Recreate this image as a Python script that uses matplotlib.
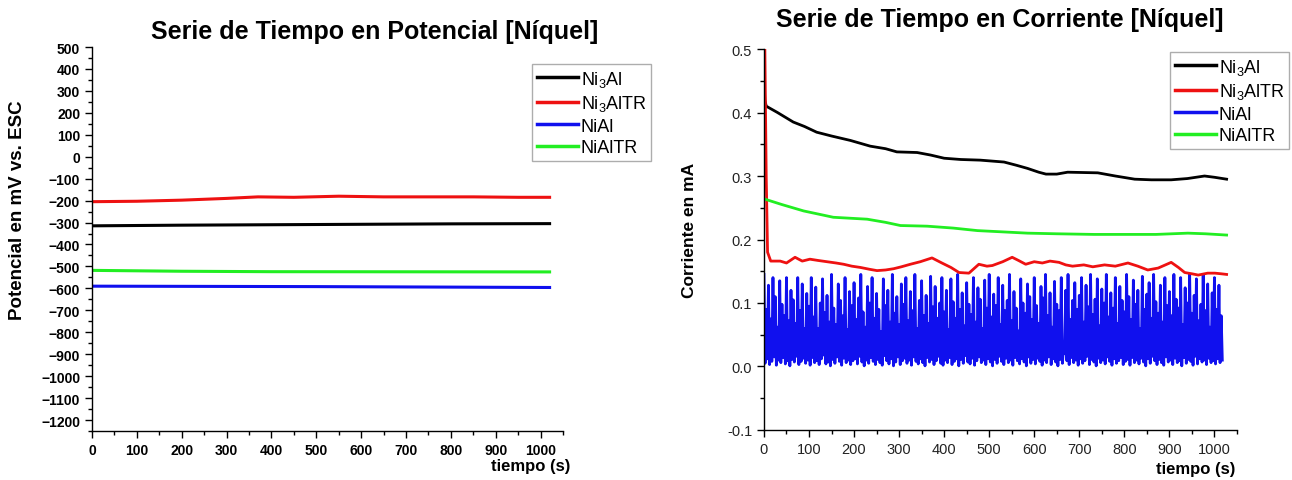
import numpy as np
import matplotlib
matplotlib.use("Agg")
import matplotlib.pyplot as plt
from matplotlib.ticker import MultipleLocator

plt.rcParams['font.family'] = ['Liberation Sans', 'DejaVu Sans']
plt.rcParams['mathtext.fontset'] = 'custom'
plt.rcParams['mathtext.rm'] = 'Liberation Sans'
plt.rcParams['mathtext.default'] = 'regular'

labels = [r'Ni$_3$Al', r'Ni$_3$AlTR', 'NiAl', 'NiAlTR']
colors = ['#000000', '#ee1111', '#1010ee', '#22ee22']

# ---- Potential (left) ----
pot_t_ni3al = [0, 200, 400, 600, 800, 1020]
pot_ni3al = [-315, -312, -310, -308, -306, -305]
pot_t_ni3altr = [0, 100, 200, 300, 370, 450, 550, 650, 750, 850, 950, 1020]
pot_ni3altr = [-205, -203, -198, -190, -183, -185, -180, -183, -183, -183, -185, -185]
pot_t_nial = [0, 500, 1020]
pot_nial = [-590, -592, -596]
pot_t_nialtr = [0, 200, 400, 1020]
pot_nialtr = [-518, -522, -524, -525]

# ---- Current (right) ----
cur_t_ni3al = [0, 2, 5, 30, 65, 90, 117, 150, 192, 236, 270, 295, 340, 370, 400,
               437, 480, 533, 560, 585, 610, 626, 650, 674, 741, 780, 823, 860,
               904, 940, 978, 1000, 1027]
cur_ni3al = [0.45, 0.42, 0.41, 0.40, 0.385, 0.378, 0.369, 0.363, 0.356, 0.347,
             0.343, 0.338, 0.337, 0.333, 0.328, 0.326, 0.325, 0.322, 0.317, 0.312,
             0.306, 0.303, 0.303, 0.306, 0.305, 0.300, 0.295, 0.294, 0.294, 0.296,
             0.300, 0.298, 0.295]
cur_t_ni3altr = [0, 2, 5, 8, 15, 36, 50, 69, 85, 102, 120, 140, 160, 177, 195, 214,
                 235, 251, 270, 288, 305, 325, 347, 373, 395, 415, 433, 455, 477,
                 495, 507, 530, 551, 565, 581, 600, 618, 635, 655, 670, 685, 710,
                 730, 756, 780, 808, 830, 852, 875, 904, 920, 934, 950, 964, 985,
                 1001, 1015, 1027]
cur_ni3altr = [0.5, 0.5, 0.3, 0.18, 0.166, 0.166, 0.163, 0.172, 0.166, 0.169, 0.167,
               0.165, 0.163, 0.161, 0.158, 0.156, 0.153, 0.151, 0.152, 0.154, 0.157,
               0.161, 0.165, 0.171, 0.163, 0.156, 0.148, 0.147, 0.161, 0.158, 0.159,
               0.165, 0.172, 0.167, 0.161, 0.165, 0.163, 0.166, 0.164, 0.160, 0.158,
               0.160, 0.157, 0.160, 0.158, 0.163, 0.158, 0.152, 0.155, 0.164, 0.156,
               0.148, 0.146, 0.144, 0.147, 0.147, 0.146, 0.145]
cur_t_nialtr = [0, 40, 88, 154, 229, 270, 303, 362, 420, 474, 530, 585, 650, 733,
                800, 870, 941, 980, 1027]
cur_nialtr = [0.264, 0.255, 0.245, 0.235, 0.232, 0.227, 0.222, 0.221, 0.218, 0.214,
              0.212, 0.210, 0.209, 0.208, 0.208, 0.208, 0.210, 0.209, 0.207]

# NiAl current: alternating peaks / troughs (in 0.001 mA), sample step 2.5 s
nial_peaks = [
    145, 90, 128, 75, 140, 110, 62, 135, 98, 80, 140, 72, 120, 105, 68, 140, 88, 130, 60, 115,
    95, 140, 78, 125, 60, 100, 138, 85, 112, 70, 145, 92, 66, 130, 104, 80, 140, 58, 118, 96,
    132, 74, 108, 145, 86, 62, 126, 100, 140, 76, 115, 90, 55, 138, 96, 120, 70, 145, 84, 110,
    66, 130, 98, 140, 72, 118, 88, 145, 60, 104, 135, 80, 112, 68, 142, 94, 126, 76, 100, 140,
    86, 120, 58, 138, 102, 76, 145, 90, 116, 64, 132, 98, 82, 140, 70, 124, 106, 60, 136, 92,
    145, 78, 114, 96, 140, 66, 128, 88, 104, 145, 72, 118, 92, 56, 138, 100, 84, 130, 110, 74,
    140, 96, 68, 126, 108, 145, 80, 116, 62, 134, 98, 88, 140, 30, 120, 145, 74, 104, 132, 90,
    112, 140, 70, 128, 94, 145, 82, 106, 138, 64, 122, 100, 145, 78, 116, 92, 140, 68, 126, 104,
    86, 145, 110, 74, 136, 98, 120, 60, 142, 90, 114, 132, 76, 145, 102, 84, 128, 70, 140, 96,
    118, 80, 145, 106, 92, 140, 66, 124, 100, 145, 84, 112, 138, 72, 98, 145, 88, 130, 62, 116,
    140, 90, 128, 80]
nial_troughs = [
    5, 12, 3, 8, 15, 2, 10, 6, 14, 4, 9, 1, 11, 7, 16, 3, 8, 13, 5, 10,
    2, 14, 6, 9, 3, 12, 18, 4, 7, 1, 11, 5, 15, 8, 2, 13, 6, 10, 3, 9,
    12, 4, 16, 7, 1, 10, 5, 14, 8, 3, 11, 6, 2, 17, 9, 4, 12, 1, 7, 15,
    3, 9, 13, 5, 10, 2, 15, 8, 4, 12, 6, 1, 14, 7, 11, 3, 9, 16, 5, 2,
    10, 6, 14, 3, 8, 12, 1, 11, 5, 17, 7, 4, 13, 2, 9, 15, 6, 10, 3, 12,
    7, 1, 11, 5, 16, 8, 3, 13, 6, 10, 2, 14, 9, 4, 12, 7, 1, 15, 5, 11,
    4, 13, 8, 2, 10, 6, 15, 3, 12, 7, 1, 11, 5, 20, 9, 3, 14, 6, 10, 2,
    12, 5, 9, 16, 3, 11, 7, 1, 13, 6, 10, 4, 15, 8, 2, 12, 5, 9, 14, 3,
    8, 11, 2, 14, 6, 10, 4, 13, 7, 1, 12, 5, 16, 9, 3, 11, 6, 2, 15, 7,
    10, 3, 13, 6, 9, 1, 14, 5, 11, 8, 2, 16, 4, 12, 7, 10, 3, 13, 6, 9,
    4, 12, 6, 10]
nial_step = 2.5

nial_vals = np.empty(2 * len(nial_peaks))
nial_vals[0::2] = np.array(nial_peaks) / 1000.0
nial_vals[1::2] = np.array(nial_troughs) / 1000.0
nial_t = np.arange(len(nial_vals)) * nial_step

fig = plt.figure(figsize=(12.92, 4.81), dpi=100)
axL = fig.add_axes([0.0712, 0.1019, 0.3646, 0.7983])
axR = fig.add_axes([0.5913, 0.1040, 0.3661, 0.7920])

lw = 2.2
hl = []
for t, v, c in [(pot_t_ni3al, pot_ni3al, colors[0]), (pot_t_ni3altr, pot_ni3altr, colors[1]),
                (pot_t_nial, pot_nial, colors[2]), (pot_t_nialtr, pot_nialtr, colors[3])]:
    hl.append(axL.plot(t, v, color=c, lw=lw)[0])

hr = []
hr.append(axR.plot(cur_t_ni3al, cur_ni3al, color=colors[0], lw=2.0)[0])
hr.append(axR.plot(cur_t_ni3altr, cur_ni3altr, color=colors[1], lw=2.0)[0])
hr.append(axR.plot(nial_t, nial_vals, color=colors[2], lw=2.0)[0])
hr.append(axR.plot(cur_t_nialtr, cur_nialtr, color=colors[3], lw=2.0)[0])
hr[2].set_zorder(1.5)

for ax in (axL, axR):
    for s in ('top', 'right'):
        ax.spines[s].set_visible(False)
    for s in ('left', 'bottom'):
        ax.spines[s].set_linewidth(1.0)
    ax.set_xlim(0, 1050)
    ax.xaxis.set_major_locator(MultipleLocator(100))
    ax.xaxis.set_minor_locator(MultipleLocator(50))
    ax.tick_params(which='major', direction='out', length=5, width=1)
    ax.tick_params(which='minor', direction='out', length=3, width=1)

axL.set_ylim(-1250, 500)
axL.yaxis.set_major_locator(MultipleLocator(100))
axL.yaxis.set_minor_locator(MultipleLocator(50))
axL.set_yticks(np.arange(-1200, 501, 100))
axL.set_xticks(np.arange(0, 1001, 100))
for lab in axL.get_xticklabels() + axL.get_yticklabels():
    lab.set_fontweight('bold')
    lab.set_fontsize(10)

axR.set_ylim(-0.1, 0.5)
axR.yaxis.set_major_locator(MultipleLocator(0.1))
axR.yaxis.set_minor_locator(MultipleLocator(0.05))
axR.set_xticks(np.arange(0, 1001, 100))
axR.set_yticks(np.arange(-0.1, 0.51, 0.1))
axR.set_yticklabels(['-0.1', '0.0', '0.1', '0.2', '0.3', '0.4', '0.5'])
for lab in axR.get_xticklabels() + axR.get_yticklabels():
    lab.set_fontsize(10.5)
    lab.set_color('#222222')

axL.set_ylabel('Potencial en mV vs. ESC', fontsize=13.5, fontweight='bold')
axL.yaxis.set_label_coords(-0.14, (432 - 210) / 384)
axR.set_ylabel('Corriente en mA', fontsize=12.5, fontweight='bold')
axR.yaxis.set_label_coords(-0.142, (431 - 230) / 381)

fig.text(570 / 1292, 1 - 466 / 481, 'tiempo (s)', fontsize=12, fontweight='bold',
         ha='right', va='center')
fig.text(1235 / 1292, 1 - 470 / 481, 'tiempo (s)', fontsize=12, fontweight='bold',
         ha='right', va='center')

fig.text(375 / 1292, 1 - 32 / 481, 'Serie de Tiempo en Potencial [Níquel]',
         fontsize=18, fontweight='bold', ha='center', va='center')
fig.text(1000 / 1292, 1 - 20 / 481, 'Serie de Tiempo en Corriente [Níquel]',
         fontsize=18, fontweight='bold', ha='center', va='center')

leg_kw = dict(loc='upper left', fontsize=13, frameon=True, fancybox=False,
              handlelength=2.3, handletextpad=0.15, labelspacing=0.25,
              borderpad=0.25, borderaxespad=0.0)
legL = fig.legend(hl, labels, bbox_to_anchor=(532 / 1292, 1 - 65 / 481), **leg_kw)
legR = fig.legend(hr, labels, bbox_to_anchor=(1170 / 1292, 1 - 53 / 481), **leg_kw)
for leg in (legL, legR):
    leg.get_frame().set_edgecolor('#999999')
    leg.get_frame().set_linewidth(1.0)
    for line in leg.get_lines():
        line.set_linewidth(2.5)

fig.savefig('out.png', dpi=100)
